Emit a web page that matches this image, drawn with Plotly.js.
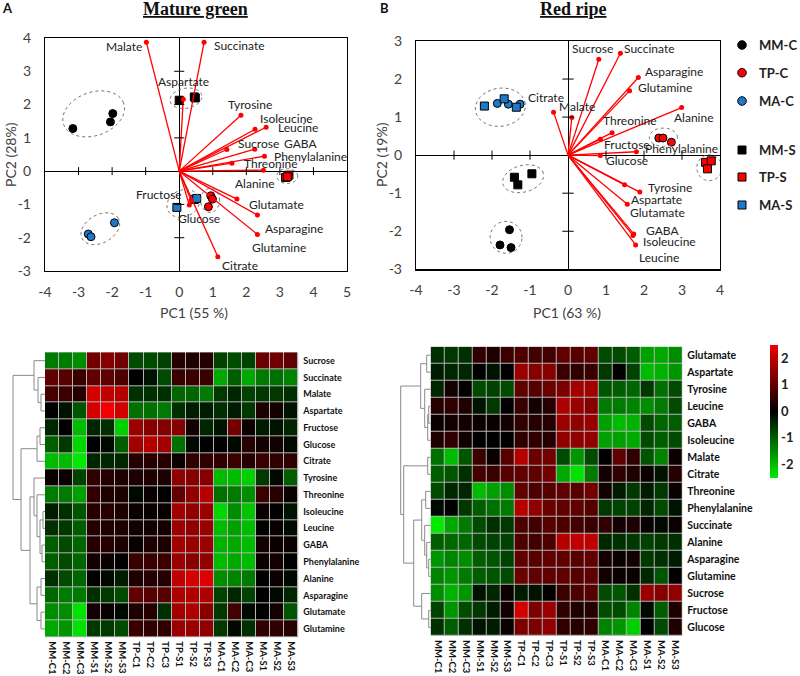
<!DOCTYPE html>
<html>
<head>
<meta charset="utf-8">
<script src="https://cdn.plot.ly/plotly-3.0.1.min.js"></script>
<style>
  html, body { margin: 0; padding: 0; background: #fff; }
  #chart { width: 800px; height: 676px; }
</style>
</head>
<body>
<div id="chart"></div>
<script>
// groups shared by both biplots
const groups = ['MM-C', 'TP-C', 'MA-C', 'MM-S', 'TP-S', 'MA-S'];
const groupColors = ['#000000', '#ff0000', '#1f78c8', '#000000', '#ff0000', '#1f78c8'];
const groupSymbols = ['circle', 'circle', 'circle', 'square', 'square', 'square'];

// A - mature green, PCA scores (one list per group)
const mgScoreX = [[-3.17, -1.98, -2.05], [0.94, 0.99, 0.87], [-2.71, -2.63, -1.93],
                  [0.0, 0.45, 0.48], [3.17, 3.27, 3.22], [-0.07, 0.45, 0.52]];
const mgScoreY = [[1.28, 1.73, 1.48], [-0.74, -0.84, -1.07], [-1.89, -1.97, -1.55],
                  [2.13, 2.23, 2.2], [-0.19, -0.12, -0.17], [-1.09, -0.85, -0.82]];

// A - loadings
const mgLoadNames = ['Malate', 'Succinate', 'Aspartate', 'Tyrosine', 'Isoleucine', 'Leucine', 'Sucrose', 'GABA',
  'Phenylalanine', 'Threonine', 'Alanine', 'Glutamate', 'Asparagine', 'Glutamine', 'Citrate', 'Fructose', 'Glucose'];
const mgLoadX = [-0.98, 0.74, 0.12, 1.84, 2.26, 2.59, 1.42, 2.25, 2.54, 1.57, 2.51, 1.72, 2.33, 2.33, 1.15, 0.35, 0.3];
const mgLoadY = [3.87, 3.87, 2.16, 1.68, 1.26, 1.32, 0.65, 0.66, 0.45, 0.24, 0.03, -0.84, -1.32, -1.9, -2.57, -0.87, -1.02];

// B - red ripe, PCA scores
const rrScoreX = [[-1.54, -1.79, -1.5], [2.39, 2.5, 2.72], [-1.86, -1.57, -1.26],
                  [-1.41, -1.32, -0.95], [3.62, 3.77, 3.67], [-2.2, -1.68, -1.36]];
const rrScoreY = [[-1.96, -2.36, -2.43], [0.45, 0.45, 0.34], [1.36, 1.34, 1.34],
                  [-0.58, -0.78, -0.49], [-0.19, -0.15, -0.36], [1.29, 1.48, 1.26]];

// B - loadings
const rrLoadNames = ['Sucrose', 'Succinate', 'Asparagine', 'Glutamine', 'Malate', 'Citrate', 'Alanine', 'Threonine',
  'Fructose', 'Phenylalanine', 'Glucose', 'Tyrosine', 'Aspartate', 'Glutamate', 'GABA', 'Isoleucine', 'Leucine'];
const rrLoadX = [0.81, 1.38, 1.85, 1.62, 0.1, -0.38, 2.99, 1.16, 0.85, 1.8, 0.85, 1.89, 1.49, 1.56, 1.73, 1.71, 1.78];
const rrLoadY = [2.52, 2.68, 2.04, 1.69, 0.99, 1.13, 1.25, 0.59, 0.42, 0.09, -0.01, -0.97, -0.78, -1.29, -2.07, -2.11, -2.36];

// heatmaps
const samples = ['MM-C1', 'MM-C2', 'MM-C3', 'MM-S1', 'MM-S2', 'MM-S3', 'TP-C1', 'TP-C2', 'TP-C3',
  'TP-S1', 'TP-S2', 'TP-S3', 'MA-C1', 'MA-C2', 'MA-C3', 'MA-S1', 'MA-S2', 'MA-S3'];

const mgRows = ['Sucrose', 'Succinate', 'Malate', 'Aspartate', 'Fructose', 'Glucose', 'Citrate', 'Tyrosine',
  'Threonine', 'Isoleucine', 'Leucine', 'GABA', 'Phenylalanine', 'Alanine', 'Asparagine', 'Glutamate', 'Glutamine'];
const mgHeat = [
  [-1.3, -1.3, -1.5, 1.2, 1.4, 1.2, -0.8, -0.8, -0.7, 0.4, 0.3, 0.4, -0.7, -0.8, -0.7, 1.1, 1.2, 1.0],
  [1.0, 0.9, 0.6, 1.0, 1.0, 0.8, 0.0, -0.2, -0.8, 0.6, 0.6, 0.6, -1.8, -1.0, -1.8, -1.3, -1.2, -1.4],
  [0.7, 0.6, 0.4, 2.2, 2.0, 1.9, -0.5, -0.5, -0.5, -1.1, -1.1, -1.3, -0.6, -0.4, -0.7, -0.6, -0.6, -0.5],
  [0.0, -0.2, -0.9, 2.2, 2.5, 2.2, -1.2, -1.2, -1.3, -0.5, -0.3, -0.3, -0.5, -0.3, -0.6, 0.3, 0.2, -0.2],
  [-0.4, 0.0, -2.0, -0.4, -0.5, -2.2, 1.6, 1.4, 1.4, 1.4, 0.2, -0.4, -0.2, 1.2, 0.1, -0.3, -0.2, -0.4],
  [-1.0, -0.6, -2.3, 0.0, -0.1, -1.0, 1.7, 1.9, 1.7, -1.2, -0.1, 0.0, 0.0, -0.1, 0.4, 0.2, 0.2, -0.1],
  [-2.0, -2.0, -2.5, -0.4, -0.4, -0.4, 0.4, 0.4, 0.4, 0.1, 0.5, 0.5, 0.5, 0.6, 0.4, 0.6, 0.5, 0.5],
  [0.1, 0.1, -0.7, 0.5, 0.4, 0.3, 0.3, 0.3, 0.3, 1.5, 1.4, 1.4, -2.0, -2.0, -2.2, -0.6, -0.1, -1.0],
  [-1.3, -1.3, -1.7, 0.5, 0.3, 0.3, -0.1, 0.1, 0.0, 1.0, 1.5, 1.9, -1.2, -1.3, -1.5, 0.6, 0.4, 0.1],
  [-0.3, -0.5, -0.9, 0.4, 0.4, 0.3, 0.1, 0.1, 0.1, 1.7, 1.5, 1.6, -2.3, -1.5, -2.1, 0.1, 0.0, -0.2],
  [-0.5, -0.6, -1.0, 0.4, 0.3, 0.3, 0.2, 0.2, 0.2, 1.6, 1.5, 1.6, -2.0, -1.7, -2.0, 0.0, 0.1, -0.1],
  [-1.0, -0.8, -1.1, 0.4, 0.4, 0.3, 0.1, 0.3, 0.3, 1.7, 1.6, 1.6, -1.9, -1.8, -2.0, 0.2, 0.1, 0.1],
  [-1.0, -0.8, -1.1, 0.2, 0.1, 0.0, 0.6, 0.6, 0.6, 1.6, 1.4, 1.5, -2.0, -1.8, -2.0, 0.1, 0.2, 0.0],
  [-0.5, -0.8, -1.1, 0.0, -0.1, -0.3, 0.3, 0.4, 0.4, 2.0, 2.2, 2.3, -1.5, -1.4, -1.3, 0.0, 0.1, -0.1],
  [-1.1, -1.3, -1.3, -0.5, -0.6, -0.8, 1.0, 0.9, 0.9, 1.8, 1.8, 1.8, -0.7, -0.4, -0.7, 0.0, -0.1, -0.4],
  [-1.5, -1.5, -2.4, 0.2, 0.1, -0.1, 0.3, 0.4, -0.5, 1.7, 1.8, 1.4, -0.6, 0.7, -0.1, 0.0, 0.2, -0.9],
  [-1.8, -1.6, -2.4, -0.6, -0.6, -0.8, 0.6, 0.5, 0.5, 1.6, 1.6, 1.5, -0.6, -0.1, -0.5, 0.5, 0.5, 0.4]
];

const rrRows = ['Glutamate', 'Aspartate', 'Tyrosine', 'Leucine', 'GABA', 'Isoleucine', 'Malate', 'Citrate',
  'Threonine', 'Phenylalanine', 'Succinate', 'Alanine', 'Asparagine', 'Glutamine', 'Sucrose', 'Fructose', 'Glucose'];
const rrHeat = [
  [-0.5, -0.6, -0.5, 0.5, 0.3, 0.6, 0.8, 0.7, 0.7, 1.0, 0.9, 1.0, -0.8, -0.8, -1.0, -1.7, -1.8, -1.5],
  [-0.3, -0.4, -0.4, 0.0, -0.2, 0.0, 1.6, 1.4, 1.4, 0.6, 0.5, 0.6, -0.6, 0.0, -0.7, -2.0, -1.9, -1.6],
  [-0.4, 0.2, 0.0, -0.8, -0.7, -0.8, 1.0, 0.9, 1.1, 1.3, 1.7, 1.7, -0.9, -1.0, -1.1, -0.6, -1.2, -0.8],
  [0.4, 0.5, 0.3, -0.2, -0.6, 0.0, 0.6, 0.2, 0.4, 1.8, 1.6, 1.4, -1.3, -1.3, -1.4, -1.5, -1.3, -0.8],
  [0.1, 0.2, 0.2, 0.1, 0.1, 0.2, 0.5, 0.4, 0.4, 1.6, 1.5, 1.6, -1.7, -2.0, -1.9, -0.8, -1.1, -1.0],
  [0.3, 0.5, 0.2, 0.0, 0.0, 0.0, 0.5, 0.5, 0.4, 1.5, 1.5, 1.5, -1.7, -1.7, -1.8, -0.8, -1.0, -0.8],
  [-1.2, -2.0, -0.9, 0.6, 0.1, 0.9, 1.9, 1.1, 1.2, -0.8, -1.6, -0.8, 0.0, 1.0, 0.5, -0.9, -1.4, 0.1],
  [-1.0, -0.9, -0.5, 0.7, 0.6, 0.9, 1.0, 1.0, 1.2, -1.8, -2.4, -1.3, 0.2, 0.5, 0.3, 0.1, -0.2, 0.4],
  [-0.8, -0.4, -0.4, -2.0, -1.7, -1.5, 1.0, 0.8, 0.9, 1.0, 0.9, 1.2, 0.2, -0.3, -0.6, -0.3, -0.6, 0.1],
  [-0.1, 0.0, -0.6, -1.0, -1.2, -1.3, 1.9, 1.5, 1.1, 1.0, 1.0, 0.9, -0.6, -0.7, -0.7, -0.4, -0.8, -0.2],
  [-2.5, -1.8, -1.3, -0.8, -0.5, -0.6, 0.8, 0.7, 0.9, 0.8, 0.7, 0.6, 0.5, 0.2, 0.3, 0.1, -0.1, 0.1],
  [-1.0, -1.1, -1.1, -0.8, -0.7, -0.7, 0.8, 0.7, 0.8, 1.9, 2.0, 2.0, -0.4, -0.5, -0.6, -0.7, -0.6, -0.5],
  [-1.6, -1.4, -1.5, -1.0, -0.9, -0.7, 1.0, 0.9, 1.0, 1.0, 0.9, 1.0, 0.2, 0.1, 0.2, -0.6, -0.5, -0.3],
  [-1.4, -1.6, -1.3, -1.0, -0.9, -0.8, 1.1, 1.0, 1.0, 1.0, 0.9, 1.0, 0.2, 0.1, 0.1, -0.4, -0.9, 0.0],
  [-1.5, -1.9, -1.6, -0.2, -0.4, 0.1, -0.3, -0.2, 0.0, 0.6, 0.8, 0.9, -0.8, -0.9, -0.5, 1.6, 1.4, 1.5],
  [-0.7, -1.6, -0.8, -0.6, -0.3, 0.2, 2.2, 1.3, 1.6, 0.5, 0.3, 0.4, -0.8, -0.8, -1.4, -0.1, -1.0, 0.3],
  [-0.5, -1.0, -0.5, -0.2, -0.3, 0.1, 1.3, 1.3, 1.5, 0.5, 0.4, 0.5, -1.4, -1.6, -2.2, 0.0, -0.8, 0.3]
];

// row dendrograms: [left, right, mergeHeight], leaves are row indices
const mgTree = [[0, [1, [2, 3, 4], 7], 11],
  [[[4, 5, 5], 6, 8],
   [[7, [8, [[9, 10, 2], [11, 12, 3], 5], 8], 11], [[13, 14, 4], [15, 16, 4], 8], 15], 24], 32];
const rrTree = [[[0, 1, 4], [2, [[3, 4, 2], 5, 3], 6], 10],
  [[6, 7, 3],
   [[[8, 9, 5], [10, [11, [12, 13, 2], 4], 6], 9], [14, [15, 16, 2], 9], 17], 27], 30];

// tick values of the biplots and colour bar
const mgXTickVals = [-4, -3, -2, -1, 0, 1, 2, 3, 4, 5];
const mgYTickVals = [-3, -2, -1, 0, 1, 2, 3, 4];
const rrXTickVals = [-4, -3, -2, -1, 0, 1, 2, 3, 4];
const rrYTickVals = [-3, -2, -1, 0, 1, 2, 3];
const barTickVals = [-2, -1, 0, 1, 2];

// ---- layout helpers (pixel -> paper) ----
const W = 800, H = 676;
const px = x => x / W;
const py = y => 1 - y / H;
const hyphen = v => String(v).replace('\u2212', '-');

const FONT = 'Lato, "Open Sans", sans-serif';
const traces = [];
const shapes = [];
const annotations = [];

// label placement next to each loading tip: [dx px, dy px (down), anchor]
const mgLabelPos = [[-2, 4, 'right'], [8, 3, 'left'], [0, -18, 'center'], [9, -11, 'center'], [3, -11, 'left'],
  [10, 0, 'left'], [9, -6, 'left'], [27, -6, 'left'], [8, 0, 'left'], [10, 0, 'left'], [-8, 13, 'center'],
  [10, 5, 'left'], [6, 13, 'left'], [-7, 13, 'left'], [2, 9, 'left'], [-7, -6, 'right'], [10, 13, 'center']];
const rrLabelPos = [[-6, -11, 'center'], [2, -5, 'left'], [5, -6, 'left'], [6, -3, 'left'], [5, -11, 'center'],
  [-8, -15, 'center'], [12, 10, 'center'], [18, -12, 'center'], [2, 5, 'left'], [7, -3, 'left'], [4, 5, 'left'],
  [6, -5, 'left'], [4, 15, 'left'], [1, 8, 'left'], [10, -3, 'left'], [8, 6, 'left'], [1, 13, 'left']];

// group outlines: [cx, cy, rx, ry, angle deg]
const mgEllipses = [[-2.55, 1.72, 0.95, 0.65, 20], [0.2, 2.19, 0.48, 0.3, 10], [-2.35, -1.73, 0.62, 0.42, 30],
  [0.12, -0.97, 0.5, 0.4, 25], [0.92, -0.88, 0.28, 0.36, 0], [3.22, -0.15, 0.31, 0.22, 0]];
const rrEllipses = [[-1.78, 1.26, 0.66, 0.5, 8], [-1.18, -0.62, 0.55, 0.35, 15], [-1.63, -2.16, 0.42, 0.42, 0],
  [2.51, 0.47, 0.37, 0.24, 0], [3.72, -0.33, 0.33, 0.34, 0]];

function ellipsePath([cx, cy, rx, ry, deg]) {
  const a = deg * Math.PI / 180;
  let d = '';
  for (let i = 0; i <= 60; i++) {
    const t = i / 60 * 2 * Math.PI;
    const x = cx + rx * Math.cos(t) * Math.cos(a) - ry * Math.sin(t) * Math.sin(a);
    const y = cy + rx * Math.cos(t) * Math.sin(a) + ry * Math.sin(t) * Math.cos(a);
    d += (i ? 'L' : 'M') + x.toFixed(4) + ',' + y.toFixed(4);
  }
  return d + 'Z';
}

function addBiplot(xr, yr, scoreX, scoreY, loadX, loadY, names, labelPos, ellipses, xTicks, yTicks) {
  ellipses.forEach(e => shapes.push({
    type: 'path', xref: xr, yref: yr, path: ellipsePath(e),
    line: { color: '#707070', width: 1, dash: 'dot' }
  }));

  // tick marks sitting on the zero lines (skip the origin)
  xTicks.filter(k => k !== 0).forEach(k => shapes.push({ type: 'line', xref: xr, yref: yr,
    x0: k, x1: k, y0: -0.12, y1: 0.12, line: { color: '#000', width: 1 } }));
  yTicks.filter(k => k !== 0).forEach(k => shapes.push({ type: 'line', xref: xr, yref: yr,
    x0: -0.15, x1: 0.15, y0: k, y1: k, line: { color: '#000', width: 1 } }));

  groups.forEach((g, i) => traces.push({
    type: 'scatter', mode: 'markers', name: g, x: scoreX[i], y: scoreY[i], xaxis: xr, yaxis: yr,
    marker: { symbol: groupSymbols[i], color: groupColors[i], size: 8, line: { color: '#000', width: 1 } },
    showlegend: false, hoverinfo: 'skip'
  }));

  const lx = [], ly = [];
  loadX.forEach((v, i) => { lx.push(0, v, null); ly.push(0, loadY[i], null); });
  traces.push({ type: 'scatter', mode: 'lines', x: lx, y: ly, xaxis: xr, yaxis: yr,
    line: { color: '#ff0000', width: 1.3 }, showlegend: false, hoverinfo: 'skip' });
  traces.push({ type: 'scatter', mode: 'markers', x: loadX, y: loadY, xaxis: xr, yaxis: yr,
    marker: { color: '#ff0000', size: 5 }, showlegend: false, hoverinfo: 'skip' });

  names.forEach((n, i) => annotations.push({
    xref: xr, yref: yr, x: loadX[i], y: loadY[i], text: n, showarrow: false,
    xanchor: labelPos[i][2], yanchor: 'middle', xshift: labelPos[i][0], yshift: -labelPos[i][1],
    font: { family: FONT, size: 12, color: '#222' }
  }));
}

addBiplot('x', 'y', mgScoreX, mgScoreY, mgLoadX, mgLoadY, mgLoadNames, mgLabelPos, mgEllipses,
  mgXTickVals.filter(k => k > -4 && k < 5), mgYTickVals.filter(k => k > -3 && k < 4));
addBiplot('x2', 'y2', rrScoreX, rrScoreY, rrLoadX, rrLoadY, rrLoadNames, rrLabelPos, rrEllipses,
  rrXTickVals.filter(k => k > -4 && k < 4), rrYTickVals.filter(k => k > -3 && k < 3));

// ---- heatmaps ----
const heatScale = [[0, 'rgb(0,235,0)'], [0.5, '#000000'], [1, 'rgb(240,0,0)']];
const rowIdx = mgRows.map((r, i) => i);

traces.push({
  type: 'heatmap', z: mgHeat, x: samples, y: rowIdx, xaxis: 'x3', yaxis: 'y3',
  colorscale: heatScale, zmin: -2.5, zmax: 2.5, xgap: 1, ygap: 1, showscale: false, hoverinfo: 'skip'
});
traces.push({
  type: 'heatmap', z: rrHeat, x: samples, y: rowIdx, xaxis: 'x4', yaxis: 'y4',
  colorscale: heatScale, zmin: -2.5, zmax: 2.5, xgap: 1, ygap: 1, hoverinfo: 'skip',
  colorbar: {
    x: px(770), xanchor: 'left', xpad: 0, ypad: 0, thickness: 7.5, len: (477.7 - 345) / H, lenmode: 'fraction',
    y: py(411.3), yanchor: 'middle', outlinewidth: 0, ticks: '',
    tickvals: barTickVals, ticktext: barTickVals.map(hyphen),
    tickfont: { family: FONT, size: 13, color: '#222', weight: 'bold' }
  }
});
// placeholder traces so the dendrogram axes exist
traces.push({ type: 'scatter', x: [], y: [], xaxis: 'x5', yaxis: 'y3', showlegend: false, hoverinfo: 'skip' });
traces.push({ type: 'scatter', x: [], y: [], xaxis: 'x6', yaxis: 'y4', showlegend: false, hoverinfo: 'skip' });

// grey grid behind the cells
['3', '4'].forEach(k => shapes.push({
  type: 'rect', xref: 'x' + k + ' domain', yref: 'y' + k + ' domain', x0: 0, x1: 1, y0: 0, y1: 1,
  layer: 'below', fillcolor: '#b4b4b4', line: { width: 0 }
}));

function drawTree(node, xr, yr) {
  if (typeof node === 'number') return { y: node, h: 0 };
  const a = drawTree(node[0], xr, yr);
  const b = drawTree(node[1], xr, yr);
  const h = node[2];
  const ln = { color: '#8a8a8a', width: 1 };
  shapes.push({ type: 'line', xref: xr, yref: yr, x0: a.h, x1: h, y0: a.y, y1: a.y, line: ln });
  shapes.push({ type: 'line', xref: xr, yref: yr, x0: b.h, x1: h, y0: b.y, y1: b.y, line: ln });
  shapes.push({ type: 'line', xref: xr, yref: yr, x0: h, x1: h, y0: a.y, y1: b.y, line: ln });
  return { y: (a.y + b.y) / 2, h };
}
drawTree(mgTree, 'x5', 'y3');
drawTree(rrTree, 'x6', 'y4');

// ---- manual legend ----
const legendY = [45, 72.7, 101, 150, 177, 205];
groups.forEach((g, i) => {
  const cx = 742, cy = legendY[i], r = groupSymbols[i] === 'circle' ? 4.3 : 4;
  shapes.push({
    type: groupSymbols[i] === 'circle' ? 'circle' : 'rect', xref: 'paper', yref: 'paper',
    x0: px(cx - r), x1: px(cx + r), y0: py(cy + r), y1: py(cy - r),
    fillcolor: groupColors[i], line: { color: '#000', width: 1 }
  });
  annotations.push({ xref: 'paper', yref: 'paper', x: px(757), y: py(cy), text: g, showarrow: false,
    xanchor: 'left', yanchor: 'middle', font: { family: FONT, size: 13, color: '#222', weight: 'bold' } });
});

// ---- titles, panel letters, axis titles ----
const textAnn = (text, x, y, font, extra) => annotations.push(Object.assign({
  xref: 'paper', yref: 'paper', x: px(x), y: py(y), text, showarrow: false,
  xanchor: 'center', yanchor: 'middle', font
}, extra || {}));

const titleFont = { family: '"Liberation Serif", "Times New Roman", serif', size: 18, color: '#111' };
textAnn('<b><u>Mature green</u></b>', 195, 9, titleFont);
textAnn('<b><u>Red ripe</u></b>', 573, 9, titleFont);
textAnn('<b>A</b>', 7, 8, { family: FONT, size: 13, color: '#111' });
textAnn('<b>B</b>', 384, 8, { family: FONT, size: 13, color: '#111' });

const axFont = { family: FONT, size: 14, color: '#404040' };
textAnn('PC1 (55 %)', 194, 312, axFont);
textAnn('PC1 (63 %)', 567, 312, axFont);
textAnn('PC2 (28%)', 10, 155, axFont, { textangle: -90 });
textAnn('PC2 (19%)', 381, 155, axFont, { textangle: -90 });

// ---- axes ----
function biAxis(domain, range, anchor, standoff, vals) {
  return {
    domain, range, anchor, tickvals: vals, ticktext: vals.map(hyphen), showgrid: false,
    zeroline: true, zerolinecolor: '#000', zerolinewidth: 1,
    showline: true, mirror: true, linecolor: '#000', linewidth: 1.2,
    ticks: 'outside', ticklen: standoff, tickcolor: 'rgba(0,0,0,0)',
    tickfont: { family: FONT, size: 14, color: '#404040' }, fixedrange: true
  };
}
function heatX(domain, anchor) {
  return {
    domain, anchor, type: 'category', tickangle: 90, ticks: '', showgrid: false, zeroline: false,
    showline: false, ticklabelstandoff: 3,
    tickfont: { family: FONT, size: 9.5, color: '#111', weight: 'bold' }
  };
}
function heatY(domain, anchor, rows, size) {
  return {
    domain, anchor, side: 'right', range: [rows.length - 0.5, -0.5], tickvals: rowIdx, ticktext: rows,
    ticks: '', showgrid: false, zeroline: false, showline: false, ticklabelstandoff: 4,
    tickfont: { family: FONT, size, color: '#111', weight: 'bold' }
  };
}

const layout = {
  width: W, height: H, margin: { l: 0, r: 0, t: 0, b: 0 },
  paper_bgcolor: '#fff', plot_bgcolor: '#fff', showlegend: false,
  xaxis: biAxis([px(45), px(347)], [-4, 5], 'y', 8, mgXTickVals),
  yaxis: biAxis([py(271), py(38)], [-3, 4], 'x', 10, mgYTickVals),
  xaxis2: biAxis([px(416), px(720)], [-4, 4], 'y2', 8, rrXTickVals),
  yaxis2: biAxis([py(269.3), py(41)], [-3, 3], 'x2', 10, rrYTickVals),
  xaxis3: heatX([px(45), px(298.3)], 'y3'),
  yaxis3: heatY([py(637.3), py(352.3)], 'x3', mgRows, 9),
  xaxis4: heatX([px(430.7), px(682.3)], 'y4'),
  yaxis4: heatY([py(636), py(346.7)], 'x4', rrRows, 10.5),
  xaxis5: { domain: [px(4), px(45)], range: [41, 0], anchor: 'y3', visible: false },
  xaxis6: { domain: [px(389.7), px(430.7)], range: [41, 0], anchor: 'y4', visible: false },
  shapes, annotations
};

Plotly.newPlot('chart', traces, layout, { staticPlot: true });
</script>
</body>
</html>
